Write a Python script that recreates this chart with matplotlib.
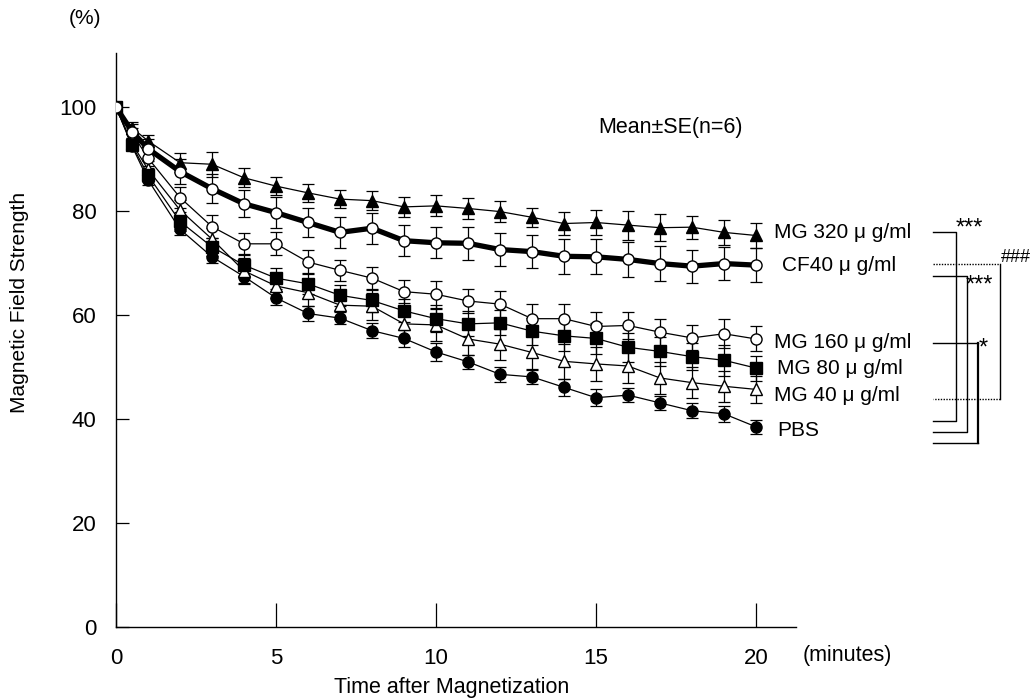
import matplotlib
matplotlib.use("Agg")
import matplotlib.pyplot as plt
from matplotlib.lines import Line2D

# ---------------- data ----------------
time = [0, 0.5, 1, 2, 3, 4, 5, 6, 7, 8, 9, 10, 11, 12, 13, 14, 15, 16, 17, 18, 19, 20]

mg320 = [100, 96.0, 93.5, 89.3, 89.0, 86.4, 84.8, 83.5, 82.3, 82.0, 80.8, 81.0,
         80.5, 79.9, 78.8, 77.6, 77.8, 77.3, 76.8, 76.9, 75.9, 75.3]
mg320_se = [0, 1.2, 1.2, 1.8, 2.4, 1.8, 1.8, 1.8, 1.8, 1.8, 2.0, 2.0, 2.0, 2.0,
            1.8, 2.2, 2.4, 2.8, 2.6, 2.2, 2.4, 2.4]

cf40 = [100, 95.3, 92.0, 87.6, 84.3, 81.4, 79.7, 77.8, 75.9, 76.7, 74.3, 73.9,
        73.8, 72.6, 72.2, 71.3, 71.2, 70.7, 69.9, 69.4, 69.9, 69.6]
cf40_se = [0, 1.5, 1.8, 2.4, 2.8, 2.6, 3.0, 2.8, 3.0, 3.0, 3.0, 3.0, 3.2, 3.2,
           3.2, 3.4, 3.4, 3.4, 3.4, 3.2, 3.2, 3.2]

mg160 = [100, 95.0, 90.2, 82.6, 77.0, 73.7, 73.7, 70.2, 68.6, 67.1, 64.5, 64.0,
         62.7, 62.1, 59.3, 59.3, 57.8, 58.0, 56.7, 55.6, 56.4, 55.4]
mg160_se = [0, 1.0, 1.6, 2.0, 2.2, 2.0, 2.2, 2.4, 2.0, 2.2, 2.2, 2.6, 2.4, 2.6,
            2.8, 2.8, 2.8, 2.6, 2.6, 2.4, 2.8, 2.4]

mg80 = [100, 92.7, 86.9, 78.0, 73.1, 69.6, 67.1, 66.0, 63.8, 62.8, 60.8, 59.3,
        58.3, 58.5, 56.9, 56.0, 55.5, 53.8, 53.0, 52.0, 51.3, 49.8]
mg80_se = [0, 1.0, 1.4, 1.8, 1.8, 2.0, 2.0, 2.0, 2.0, 2.2, 2.2, 2.6, 2.4, 2.4,
           2.6, 3.0, 3.0, 2.8, 2.8, 2.6, 3.0, 2.4]

mg40 = [100, 93.0, 88.0, 80.2, 74.6, 68.5, 65.6, 64.3, 61.9, 61.7, 58.3, 58.1,
        55.4, 54.4, 52.8, 51.1, 50.6, 50.2, 47.9, 47.0, 46.3, 45.7]
mg40_se = [0, 1.0, 1.6, 2.0, 2.2, 2.4, 2.4, 2.6, 2.6, 2.6, 2.8, 3.0, 3.0, 3.0,
           3.2, 3.4, 3.2, 3.2, 3.0, 3.0, 3.0, 2.6]

pbs = [100, 92.5, 86.0, 76.5, 71.2, 67.4, 63.3, 60.3, 59.4, 57.0, 55.5, 52.9,
       51.0, 48.6, 48.1, 46.1, 44.1, 44.6, 43.1, 41.6, 41.0, 38.5]
pbs_se = [0, 0.8, 1.0, 1.2, 1.2, 1.4, 1.4, 1.4, 1.2, 1.4, 1.6, 1.8, 1.4, 1.4,
          1.4, 1.6, 1.6, 1.4, 1.4, 1.4, 1.6, 1.4]

labels = ["MG 320 μ g/ml", "CF40 μ g/ml", "MG 160 μ g/ml",
          "MG 80 μ g/ml", "MG 40 μ g/ml", "PBS"]
xticks = [0, 5, 10, 15, 20]
yticks = [0, 20, 40, 60, 80, 100]

# ---------------- figure ----------------
W, H = 1031, 699
fig = plt.figure(figsize=(W / 100, H / 100), dpi=100)
ax = fig.add_axes([116 / W, 1 - 627 / H, (796 - 116) / W, (627 - 53) / H])

sans = ['Liberation Sans', 'DejaVu Sans']

series = [
    (pbs, pbs_se, 'o', 'black', 0.9),
    (mg40, mg40_se, '^', 'white', 0.9),
    (mg80, mg80_se, 's', 'black', 0.9),
    (mg160, mg160_se, 'o', 'white', 0.9),
    (mg320, mg320_se, '^', 'black', 0.9),
    (cf40, cf40_se, 'o', 'white', 3.8),
]
for vals, se, mk, fc, lw in series:
    ax.errorbar(time, vals, yerr=se, fmt='none', ecolor='black',
                elinewidth=0.9, capsize=4.5, capthick=0.9, zorder=2)
    ax.plot(time, vals, color='black', lw=lw, marker=mk, markersize=8,
            markerfacecolor=fc, markeredgecolor='black', markeredgewidth=1.0,
            zorder=3)

ax.set_xlim(0, 21.25)
ax.set_ylim(0, 110.4)
ax.set_xticks(xticks)
ax.set_yticks(yticks)
ax.set_xticklabels([str(v) for v in xticks], family=sans, fontsize=16)
ax.set_yticklabels([str(v) for v in yticks], family=sans, fontsize=16)
ax.tick_params(axis='x', direction='in', length=17, width=0.9, pad=15)
ax.tick_params(axis='y', direction='in', length=9, width=0.9, pad=14)
for s in ['top', 'right']:
    ax.spines[s].set_visible(False)
for s in ['left', 'bottom']:
    ax.spines[s].set_linewidth(1.0)

ax.set_ylabel("Magnetic Field Strength", family=sans, fontsize=15)
ax.yaxis.set_label_coords(-0.128, 0.566)
ax.set_xlabel("Time after Magnetization", family=sans, fontsize=15.5)
ax.xaxis.set_label_coords((452 - 116) / (796 - 116), -0.087)

fig.text(803 / W, 1 - 655 / H, "(minutes)", family=sans, fontsize=15.5,
         ha='left', va='center')
fig.text(85 / W, 1 - 19 / H, "(%)", family=sans, fontsize=15,
         ha='center', va='center')
fig.text(670 / W, 1 - 128 / H, "Mean±SE(n=6)", family=sans, fontsize=15.5,
         ha='center', va='center')

# series labels next to the last points
label_pos = [(20.56, mg320[-1] + 0.5), (20.8, cf40[-1]), (20.56, mg160[-1] - 0.6),
             (20.65, mg80[-1]), (20.56, mg40[-1] - 1.1), (20.65, pbs[-1] - 0.8)]
for (lx, ly), lab in zip(label_pos, labels):
    ax.text(lx, ly, lab, family=sans, fontsize=15, ha='left', va='center',
            clip_on=False)

# significance brackets (figure pixel coordinates)
def fline(xs, ys, ls='-', lw=1.0):
    fig.add_artist(Line2D([x / W for x in xs], [1 - y / H for y in ys],
                          color='black', lw=lw, ls=ls))

xl = 933
star_kw = dict(family=sans, fontsize=17, ha='left', va='center')
# MG320 vs PBS ***
fline([xl, 956, 956, xl], [232, 232, 421, 421])
fig.text(956 / W, 1 - 229 / H, "***", **star_kw)
# CF40 vs MG40 ###
fline([xl, 1000], [264, 264], ls=(0, (1, 1)))
fline([1000, xl], [399, 399], ls=(0, (1, 1)))
fline([1000, 1000], [264, 399])
fig.text(1001 / W, 1 - 258 / H, "###", family=sans, fontsize=13, ha='left', va='center')
# CF40 vs PBS ***
fline([xl, 967, 967, xl], [276, 276, 432, 432])
fig.text(966 / W, 1 - 286 / H, "***", **star_kw)
# MG160 vs PBS *
fline([xl, 978], [343, 343])
fline([978, 978], [343, 443], lw=1.6)
fline([978, xl], [443, 443])
fig.text(979 / W, 1 - 349 / H, "*", **star_kw)

fig.savefig("out.png", dpi=100)
